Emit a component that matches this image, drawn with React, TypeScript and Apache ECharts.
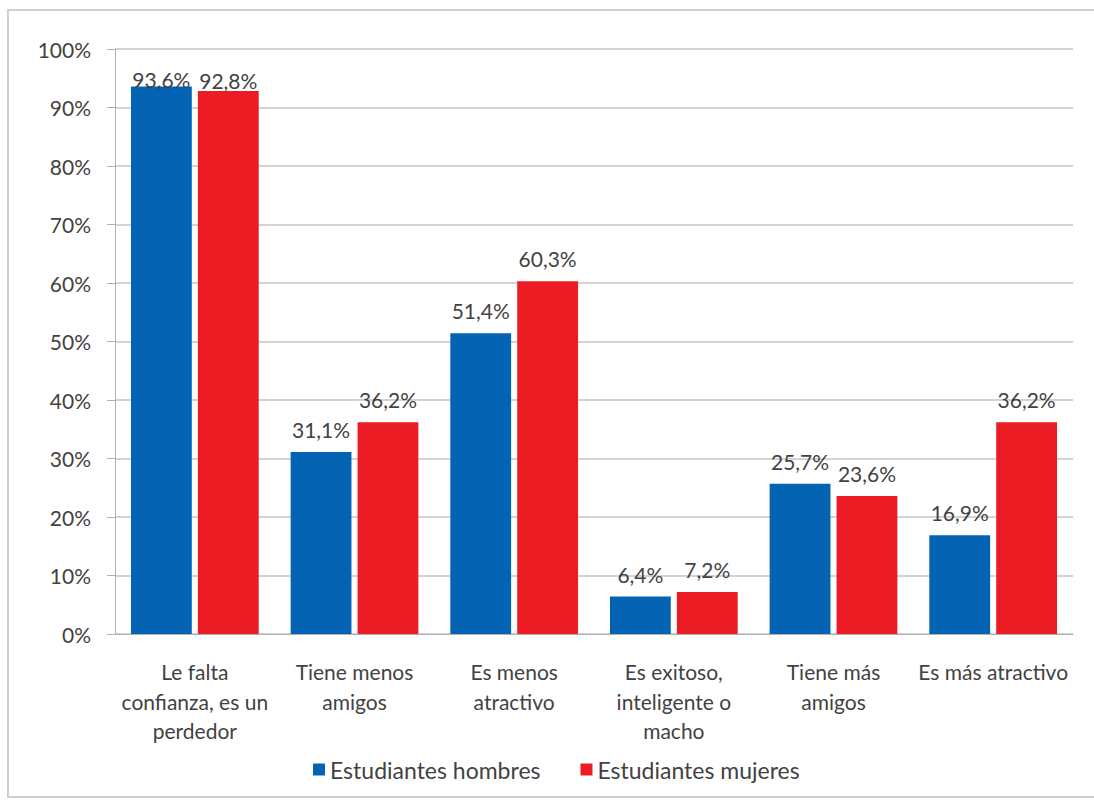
import React, { useEffect, useRef } from "react";
import * as echarts from "echarts";

const categories = [
  "Le falta\nconfianza, es un\nperdedor",
  "Tiene menos\namigos",
  "Es menos\natractivo",
  "Es exitoso,\ninteligente o\nmacho",
  "Tiene más\namigos",
  "Es más atractivo",
];
const hombres = [93.6, 31.1, 51.4, 6.4, 25.7, 16.9];
const mujeres = [92.8, 36.2, 60.3, 7.2, 23.6, 36.2];
const seriesNames = ["Estudiantes hombres", "Estudiantes mujeres"];
const colors = ["#0563B4", "#EC1C24"];

const FONT = "Lato";
const TEXT = "#424242";
const fmt = (v: number) => v.toFixed(1).replace(".", ",") + "%";

// labels that would go past the plot top are kept inside it (as in the source)
const LABEL_DISTANCE = 12;
const toData = (vals: number[], firstDistance: number) =>
  vals.map((v, i) =>
    i === 0 ? { value: v, label: { distance: firstDistance } } : { value: v }
  );

export default function App() {
  const ref = useRef<HTMLDivElement>(null);
  useEffect(() => {
    if (!ref.current) return;
    const chart = echarts.init(ref.current, undefined, { renderer: "svg" });
    const labelCfg = {
      show: true,
      position: "top" as const,
      distance: LABEL_DISTANCE,
      color: TEXT,
      fontFamily: FONT,
      fontSize: 21,
      formatter: (p: any) => fmt(p.value),
    };
    chart.setOption({
      animation: false,
      backgroundColor: "#ffffff",
      textStyle: { fontFamily: FONT },
      graphic: [
        {
          type: "rect",
          shape: { x: 8, y: 10, width: 1100, height: 787 },
          style: { fill: "none", stroke: "#d0d0d0", lineWidth: 2 },
          silent: true,
        },
      ],
      grid: { left: 115, right: 21, top: 49, bottom: 167, containLabel: false },
      legend: {
        top: 753,
        left: 308,
        itemWidth: 12,
        itemHeight: 12,
        itemGap: 40,
        icon: "rect",
        textStyle: { fontFamily: FONT, fontSize: 23, color: TEXT },
        data: seriesNames,
      },
      xAxis: {
        type: "category",
        data: categories,
        axisLine: { show: true, lineStyle: { color: "#b0b0b0", width: 1 } },
        axisTick: { show: false },
        axisLabel: {
          interval: 0,
          margin: 23,
          color: TEXT,
          fontFamily: FONT,
          fontSize: 21,
          lineHeight: 29.5,
        },
      },
      yAxis: {
        type: "value",
        min: 0,
        max: 100,
        interval: 10,
        axisLine: { show: true, lineStyle: { color: "#b0b0b0", width: 1 } },
        axisTick: { show: true, length: 8, lineStyle: { color: "#b0b0b0" } },
        splitLine: { show: true, lineStyle: { color: "#c4c4c4", width: 1.5 } },
        axisLabel: {
          margin: 24,
          color: TEXT,
          fontFamily: FONT,
          fontSize: 21,
          formatter: (v: number) => v + "%",
        },
      },
      series: [
        {
          name: seriesNames[0],
          type: "bar",
          data: toData(hombres, -4),
          itemStyle: { color: colors[0] },
          barGap: "10%",
          barCategoryGap: "20%",
          label: labelCfg,
        },
        {
          name: seriesNames[1],
          type: "bar",
          data: toData(mujeres, 0),
          itemStyle: { color: colors[1] },
          barGap: "10%",
          barCategoryGap: "20%",
          label: labelCfg,
        },
      ],
    });
    return () => chart.dispose();
  }, []);
  return (
    <div
      ref={ref}
      style={{ position: "fixed", left: 0, top: 0, width: 1094, height: 801 }}
    />
  );
}
